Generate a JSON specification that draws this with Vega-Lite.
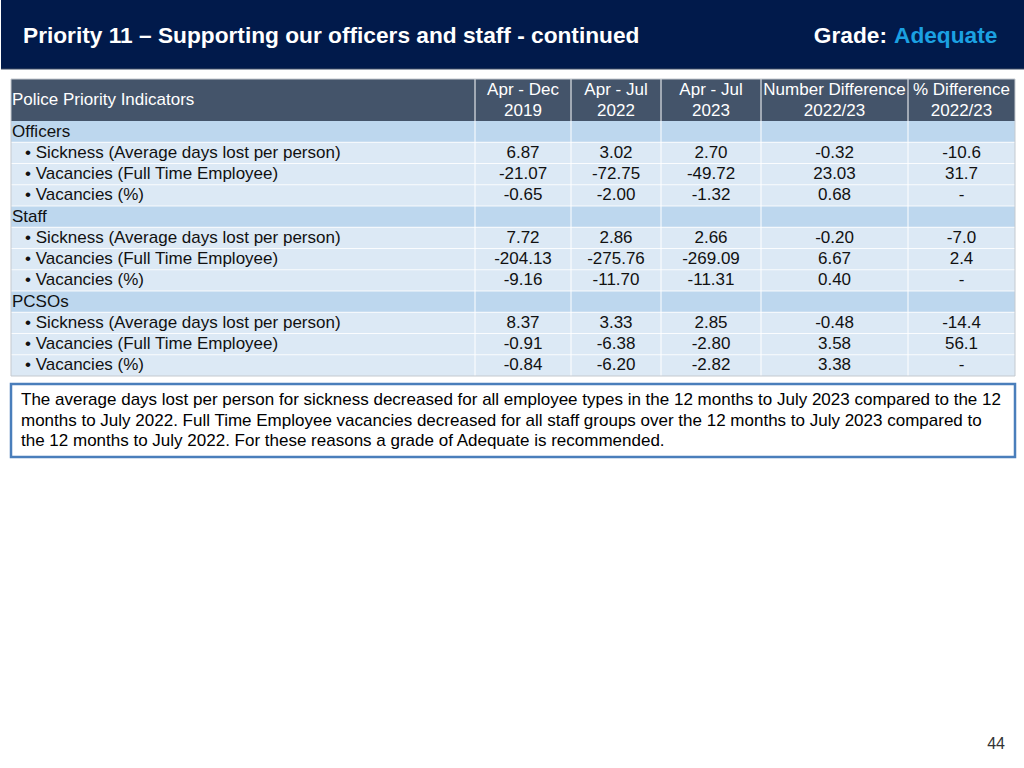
{
  "$schema": "https://vega.github.io/schema/vega-lite/v6.json",
  "width": 1024,
  "height": 768,
  "autosize": {"type": "fit", "contains": "padding"},
  "padding": 0,
  "background": "white",
  "config": {"view": {"stroke": null}, "text": {"font": "Liberation Sans"}},
  "datasets": {
    "bands": [
      {"kind": "Header", "r0": -0.5, "r1": 0.5},
      {"kind": "Group", "r0": 0.5, "r1": 1.5},
      {"kind": "Indicator", "r0": 1.5, "r1": 4.5},
      {"kind": "Group", "r0": 4.5, "r1": 5.5},
      {"kind": "Indicator", "r0": 5.5, "r1": 8.5},
      {"kind": "Group", "r0": 8.5, "r1": 9.5},
      {"kind": "Indicator", "r0": 9.5, "r1": 12.5}
    ],
    "colBounds": [{"col": 0.5}, {"col": 1.5}, {"col": 2.5}, {"col": 3.5}, {"col": 4.5}],
    "rowBounds": [{"row": 1.5}, {"row": 2.5}, {"row": 3.5}, {"row": 4.5}, {"row": 5.5}, {"row": 6.5}, {"row": 7.5}, {"row": 8.5}, {"row": 9.5}, {"row": 10.5}, {"row": 11.5}],
    "header": [
      {"col": 1, "label": "Apr - Dec\n2019"},
      {"col": 2, "label": "Apr - Jul\n2022"},
      {"col": 3, "label": "Apr - Jul\n2023"},
      {"col": 4, "label": "Number Difference\n2022/23"},
      {"col": 5, "label": "% Difference\n2022/23"}
    ],
    "labels": [
      {"row": 0, "kind": "Header", "label": "Police Priority Indicators"},
      {"row": 1, "kind": "Group", "label": "Officers"},
      {"row": 2, "kind": "Indicator", "label": "• Sickness (Average days lost per person)"},
      {"row": 3, "kind": "Indicator", "label": "• Vacancies (Full Time Employee)"},
      {"row": 4, "kind": "Indicator", "label": "• Vacancies (%)"},
      {"row": 5, "kind": "Group", "label": "Staff"},
      {"row": 6, "kind": "Indicator", "label": "• Sickness (Average days lost per person)"},
      {"row": 7, "kind": "Indicator", "label": "• Vacancies (Full Time Employee)"},
      {"row": 8, "kind": "Indicator", "label": "• Vacancies (%)"},
      {"row": 9, "kind": "Group", "label": "PCSOs"},
      {"row": 10, "kind": "Indicator", "label": "• Sickness (Average days lost per person)"},
      {"row": 11, "kind": "Indicator", "label": "• Vacancies (Full Time Employee)"},
      {"row": 12, "kind": "Indicator", "label": "• Vacancies (%)"}
    ],
    "values": [
      {"row": 2, "col": 1, "value": "6.87"}, {"row": 2, "col": 2, "value": "3.02"}, {"row": 2, "col": 3, "value": "2.70"}, {"row": 2, "col": 4, "value": "-0.32"}, {"row": 2, "col": 5, "value": "-10.6"},
      {"row": 3, "col": 1, "value": "-21.07"}, {"row": 3, "col": 2, "value": "-72.75"}, {"row": 3, "col": 3, "value": "-49.72"}, {"row": 3, "col": 4, "value": "23.03"}, {"row": 3, "col": 5, "value": "31.7"},
      {"row": 4, "col": 1, "value": "-0.65"}, {"row": 4, "col": 2, "value": "-2.00"}, {"row": 4, "col": 3, "value": "-1.32"}, {"row": 4, "col": 4, "value": "0.68"}, {"row": 4, "col": 5, "value": "-"},
      {"row": 6, "col": 1, "value": "7.72"}, {"row": 6, "col": 2, "value": "2.86"}, {"row": 6, "col": 3, "value": "2.66"}, {"row": 6, "col": 4, "value": "-0.20"}, {"row": 6, "col": 5, "value": "-7.0"},
      {"row": 7, "col": 1, "value": "-204.13"}, {"row": 7, "col": 2, "value": "-275.76"}, {"row": 7, "col": 3, "value": "-269.09"}, {"row": 7, "col": 4, "value": "6.67"}, {"row": 7, "col": 5, "value": "2.4"},
      {"row": 8, "col": 1, "value": "-9.16"}, {"row": 8, "col": 2, "value": "-11.70"}, {"row": 8, "col": 3, "value": "-11.31"}, {"row": 8, "col": 4, "value": "0.40"}, {"row": 8, "col": 5, "value": "-"},
      {"row": 10, "col": 1, "value": "8.37"}, {"row": 10, "col": 2, "value": "3.33"}, {"row": 10, "col": 3, "value": "2.85"}, {"row": 10, "col": 4, "value": "-0.48"}, {"row": 10, "col": 5, "value": "-14.4"},
      {"row": 11, "col": 1, "value": "-0.91"}, {"row": 11, "col": 2, "value": "-6.38"}, {"row": 11, "col": 3, "value": "-2.80"}, {"row": 11, "col": 4, "value": "3.58"}, {"row": 11, "col": 5, "value": "56.1"},
      {"row": 12, "col": 1, "value": "-0.84"}, {"row": 12, "col": 2, "value": "-6.20"}, {"row": 12, "col": 3, "value": "-2.82"}, {"row": 12, "col": 4, "value": "3.38"}, {"row": 12, "col": 5, "value": "-"}
    ]
  },
  "layer": [
    {
      "data": {"values": [{"part": "banner"}]},
      "mark": {"type": "rect", "fill": "#011a4b"},
      "encoding": {
        "x": {"datum": -1.5, "type": "quantitative", "axis": null, "scale": {"domain": [-1.5, -0.5, 0.5, 1.5, 2.5, 3.5, 4.5, 5.5, 6.5], "range": [0, 10, 474, 570, 660, 760, 907, 1014, 1024], "nice": false, "zero": false}},
        "x2": {"datum": 6.5},
        "y": {"datum": -2.5, "type": "quantitative", "axis": null, "scale": {"domain": [-2.5, -1.5, -0.5, 0.5, 12.5, 13.5, 14.5, 15.5, 16.5, 17.5], "range": [0, 69, 79, 121, 376, 384, 457, 733, 755, 768], "nice": false, "zero": false}},
        "y2": {"datum": -1.5}
      }
    },
    {
      "data": {"values": [{"part": "banner edge"}]},
      "mark": {"type": "rule", "stroke": "#3c4a63", "strokeWidth": 1},
      "encoding": {
        "x": {"datum": -1.5, "type": "quantitative"},
        "x2": {"datum": 6.5},
        "y": {"datum": -1.5, "type": "quantitative"}
      }
    },
    {
      "data": {"values": [{"text": "Priority 11 – Supporting our officers and staff - continued"}]},
      "mark": {"type": "text", "align": "left", "baseline": "middle", "dx": 12, "dy": 1, "fontSize": 22.7, "fontWeight": "bold", "fill": "white"},
      "encoding": {
        "x": {"datum": -0.5, "type": "quantitative"},
        "y": {"datum": -2, "type": "quantitative"},
        "text": {"field": "text"}
      }
    },
    {
      "data": {"values": [{"text": "Grade:"}]},
      "mark": {"type": "text", "align": "right", "baseline": "middle", "dx": -128, "dy": 1, "fontSize": 22.7, "fontWeight": "bold", "fill": "white"},
      "encoding": {
        "x": {"datum": 5.5, "type": "quantitative"},
        "y": {"datum": -2, "type": "quantitative"},
        "text": {"field": "text"}
      }
    },
    {
      "data": {"values": [{"text": "Adequate"}]},
      "mark": {"type": "text", "align": "left", "baseline": "middle", "dx": -121, "dy": 1, "fontSize": 22.7, "fontWeight": "bold", "fill": "#1ba1e2"},
      "encoding": {
        "x": {"datum": 5.5, "type": "quantitative"},
        "y": {"datum": -2, "type": "quantitative"},
        "text": {"field": "text"}
      }
    },
    {
      "data": {"name": "bands"},
      "mark": {"type": "rect"},
      "encoding": {
        "x": {"datum": -0.5, "type": "quantitative"},
        "x2": {"datum": 5.5},
        "y": {"field": "r0", "type": "quantitative"},
        "y2": {"field": "r1"},
        "fill": {"field": "kind", "type": "nominal", "legend": null, "scale": {"domain": ["Header", "Group", "Indicator"], "range": ["#44546a", "#bdd7ee", "#dce9f5"]}}
      }
    },
    {
      "data": {"name": "rowBounds"},
      "mark": {"type": "rule", "stroke": "white", "strokeWidth": 1, "opacity": 0.85},
      "encoding": {
        "x": {"datum": -0.5, "type": "quantitative"},
        "x2": {"datum": 5.5},
        "y": {"field": "row", "type": "quantitative"}
      }
    },
    {
      "data": {"name": "colBounds"},
      "mark": {"type": "rule", "stroke": "white", "strokeWidth": 1},
      "encoding": {
        "x": {"field": "col", "type": "quantitative"},
        "y": {"datum": -0.5, "type": "quantitative"},
        "y2": {"datum": 12.5}
      }
    },
    {
      "data": {"values": [{"part": "table"}]},
      "mark": {"type": "rect", "fill": null, "stroke": "#c4c9cf", "strokeWidth": 1},
      "encoding": {
        "x": {"datum": -0.5, "type": "quantitative"},
        "x2": {"datum": 5.5},
        "y": {"datum": -0.5, "type": "quantitative"},
        "y2": {"datum": 12.5}
      }
    },
    {
      "data": {"name": "header"},
      "mark": {"type": "text", "align": "center", "baseline": "middle", "dy": -10, "fontSize": 17, "fill": "white", "lineBreak": "\n", "lineHeight": 20.5},
      "encoding": {
        "x": {"field": "col", "type": "quantitative"},
        "y": {"datum": 0, "type": "quantitative"},
        "text": {"field": "label"}
      }
    },
    {
      "data": {"name": "labels"},
      "transform": [{"filter": "datum.kind === 'Header'"}],
      "mark": {"type": "text", "align": "left", "baseline": "middle", "dx": 1, "fontSize": 17, "fill": "white"},
      "encoding": {
        "x": {"datum": -0.5, "type": "quantitative"},
        "y": {"field": "row", "type": "quantitative"},
        "text": {"field": "label"}
      }
    },
    {
      "data": {"name": "labels"},
      "transform": [{"filter": "datum.kind === 'Group'"}],
      "mark": {"type": "text", "align": "left", "baseline": "middle", "dx": 1, "fontSize": 17, "fill": "#111111"},
      "encoding": {
        "x": {"datum": -0.5, "type": "quantitative"},
        "y": {"field": "row", "type": "quantitative"},
        "text": {"field": "label"}
      }
    },
    {
      "data": {"name": "labels"},
      "transform": [{"filter": "datum.kind === 'Indicator'"}],
      "mark": {"type": "text", "align": "left", "baseline": "middle", "dx": 14, "fontSize": 17, "fill": "#111111"},
      "encoding": {
        "x": {"datum": -0.5, "type": "quantitative"},
        "y": {"field": "row", "type": "quantitative"},
        "text": {"field": "label"}
      }
    },
    {
      "data": {"name": "values"},
      "mark": {"type": "text", "align": "center", "baseline": "middle", "fontSize": 17, "fill": "#111111"},
      "encoding": {
        "x": {"field": "col", "type": "quantitative"},
        "y": {"field": "row", "type": "quantitative"},
        "text": {"field": "value"}
      }
    },
    {
      "data": {"values": [{"part": "summary box"}]},
      "mark": {"type": "rect", "fill": "white", "stroke": "#4a7ebb", "strokeWidth": 2.5},
      "encoding": {
        "x": {"datum": -0.5, "type": "quantitative"},
        "x2": {"datum": 5.5},
        "y": {"datum": 13.5, "type": "quantitative"},
        "y2": {"datum": 14.5}
      }
    },
    {
      "data": {"values": [{"text": "The average days lost per person for sickness decreased for all employee types in the 12 months to July 2023 compared to the 12\nmonths to July 2022. Full Time Employee vacancies decreased for all staff groups over the 12 months to July 2023 compared to\nthe 12 months to July 2022. For these reasons a grade of Adequate is recommended."}]},
      "mark": {"type": "text", "align": "left", "baseline": "middle", "dx": 10, "dy": -20.5, "fontSize": 17, "fill": "#000000", "lineBreak": "\n", "lineHeight": 20.5},
      "encoding": {
        "x": {"datum": -0.5, "type": "quantitative"},
        "y": {"datum": 14, "type": "quantitative"},
        "text": {"field": "text"}
      }
    },
    {
      "data": {"values": [{"text": "44"}]},
      "mark": {"type": "text", "align": "right", "baseline": "middle", "dx": -10, "fontSize": 16, "fill": "#333333"},
      "encoding": {
        "x": {"datum": 5.5, "type": "quantitative"},
        "y": {"datum": 16, "type": "quantitative"},
        "text": {"field": "text"}
      }
    }
  ]
}
